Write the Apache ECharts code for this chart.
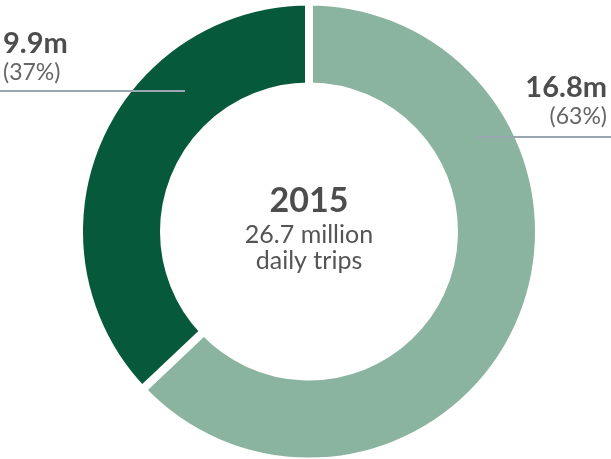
<!DOCTYPE html>
<html>
<head>
<meta charset="utf-8">
<script src="https://cdn.jsdelivr.net/npm/echarts@6/dist/echarts.min.js"></script>
<style>
  html, body { margin: 0; padding: 0; background: #fff; }
  #chart { width: 611px; height: 459px; }
</style>
</head>
<body>
<div id="chart"></div>
<script>
// trips by mode group, millions per day (2015)
const categories = ["Group A", "Group B"];
const tripValues = [16.8, 9.9];
const sliceColors = ["#8bb4a0", "#07593c"];
const yearLabel = "2015";
const totalLabel = "26.7 million";
const unitLabel = "daily trips";

const total = tripValues.reduce((a, b) => a + b, 0);

const chart = echarts.init(document.getElementById("chart"));

const pieBase = {
  type: "pie",
  center: [309, 231.5],
  radius: [145, 230],
  startAngle: 90,
  clockwise: true,
  silent: true
};

chart.setOption({
  animation: false,
  graphic: [
    {
      type: "text",
      x: 309,
      y: 184,
      style: {
        text: yearLabel,
        font: "bold 34px Lato",
        fill: "#4d4d4d",
        textAlign: "center",
        textVerticalAlign: "top"
      }
    },
    {
      type: "text",
      x: 309,
      y: 222,
      style: {
        text: totalLabel + "\n" + unitLabel,
        font: "25px Lato",
        lineHeight: 26,
        fill: "#555",
        textAlign: "center",
        textVerticalAlign: "top"
      }
    }
  ],
  series: [
    Object.assign({}, pieBase, {
      z: 2,
      itemStyle: { borderColor: "#fff", borderWidth: 8 },
      label: { show: false },
      labelLine: { show: false },
      data: categories.map((c, i) => ({
        name: c,
        value: tripValues[i],
        itemStyle: { color: sliceColors[i] }
      }))
    }),
    // transparent copy on top, carries the value labels and leader lines
    Object.assign({}, pieBase, {
      z: 5,
      itemStyle: { color: "rgba(0,0,0,0)", borderWidth: 0 },
      data: categories.map((c, i) => ({ name: c, value: tripValues[i] })),
      label: {
        show: true,
        position: "outside",
        overflow: "none",
        fontSize: 23,
        formatter: p =>
          "{val|" + p.value + "m}\n{pct|(" + Math.round((p.value / total) * 100) + "%)}",
        rich: {
          val: { fontFamily: "Lato", fontSize: 29, fontWeight: "bold", color: "#4d4d4d", lineHeight: 31 },
          pct: { fontFamily: "Lato", fontSize: 23, fontWeight: "normal", color: "#666", lineHeight: 28 }
        }
      },
      labelLine: {
        show: true,
        lineStyle: { color: "#9aa7b2", width: 2 }
      },
      labelLayout: function (params) {
        if (params.dataIndex === 0) {
          return {
            x: 607, y: 72, align: "right", verticalAlign: "top",
            labelLinePoints: [[478, 137], [611, 137], [611, 137]]
          };
        }
        return {
          x: 3, y: 28, align: "left", verticalAlign: "top",
          labelLinePoints: [[185, 91], [0, 91], [0, 91]]
        };
      }
    })
  ]
});
</script>
</body>
</html>
